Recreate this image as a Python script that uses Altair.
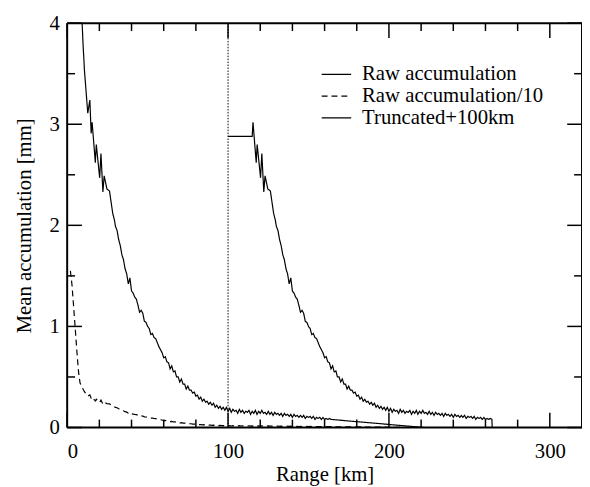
import altair as alt
import pandas as pd

# ---------------- data ----------------
series_names = ["Raw accumulation", "Raw accumulation/10", "Truncated+100km"]

raw_head_km = [2, 3, 4, 5, 6, 7, 8, 9, 10.0, 10.4, 10.7, 12.8, 14.1, 14.9, 15.5,
               17.5, 18.1, 20.2, 21.0, 22.2, 23.0, 24.7, 26.3, 28.3, 29.4, 30]
raw_head_val = [15.5, 14.1, 12.0, 9.8, 7.6, 5.6, 4.4, 4.1, 3.75, 3.64, 3.54, 3.11, 3.24, 2.91, 3.02,
                2.62, 2.80, 2.47, 2.71, 2.33, 2.49, 2.36, 2.34, 2.12, 2.05, 1.99]

raw_body_km = list(range(31, 165))
raw_body_val = [
    1.95, 1.86, 1.80, 1.71, 1.66, 1.57, 1.52, 1.42, 1.48, 1.35,   # 31-40
    1.33, 1.29, 1.27, 1.21, 1.14, 1.16, 1.13, 1.05, 1.04, 1.00,   # 41-50
    0.98, 0.92, 0.93, 0.89, 0.88, 0.84, 0.80, 0.77, 0.74, 0.69,   # 51-60
    0.70, 0.65, 0.64, 0.58, 0.61, 0.55, 0.56, 0.50, 0.50, 0.45,   # 61-70
    0.48, 0.43, 0.43, 0.38, 0.41, 0.37, 0.37, 0.34, 0.35, 0.31,   # 71-80
    0.32, 0.28, 0.30, 0.26, 0.28, 0.25, 0.26, 0.23, 0.25, 0.22,   # 81-90
    0.24, 0.20, 0.22, 0.19, 0.21, 0.18, 0.20, 0.17, 0.20, 0.16,   # 91-100
    0.19, 0.15, 0.18, 0.16, 0.17, 0.14, 0.18, 0.15, 0.17, 0.14,   # 101-110
    0.16, 0.15, 0.17, 0.13, 0.16, 0.14, 0.17, 0.13, 0.16, 0.14,   # 111-120
    0.17, 0.14, 0.15, 0.13, 0.16, 0.13, 0.15, 0.12, 0.15, 0.13,   # 121-130
    0.14, 0.12, 0.14, 0.11, 0.14, 0.12, 0.13, 0.11, 0.13, 0.10,   # 131-140
    0.13, 0.11, 0.12, 0.10, 0.12, 0.10, 0.12, 0.09, 0.11, 0.10,   # 141-150
    0.11, 0.09, 0.11, 0.08, 0.10, 0.09, 0.10, 0.08, 0.10, 0.08,   # 151-160
    0.09, 0.08, 0.09, 0.08,                                       # 161-164
]
raw_tail_km = [222]
raw_tail_val = [0.0]

trunc_level = 2.88
trunc_start_km = [100, 115]
trunc_end_km = 264.2
shift_km = 100

x_major = [0, 100, 200, 300]
x_minor = [20, 40, 60, 80, 120, 140, 160, 180, 220, 240, 260, 280]
y_major = [0, 1, 2, 3, 4]
y_minor = [0.5, 1.5, 2.5, 3.5]
divider_km = [100]

# ---------------- build table ----------------
raw_km = raw_head_km + raw_body_km + raw_tail_km
raw_val = raw_head_val + raw_body_val + raw_tail_val

rows = []
for i, (k, v) in enumerate(zip(raw_km, raw_val)):
    rows.append({"km": k, "val": v, "series": series_names[0], "o": i})
for i, (k, v) in enumerate(zip(raw_km, raw_val)):
    rows.append({"km": k, "val": v / 10, "series": series_names[1], "o": i})
tr = [(k, trunc_level) for k in trunc_start_km]
tr += [(k + shift_km, v) for k, v in zip(raw_head_km + raw_body_km, raw_head_val + raw_body_val) if k >= 15.5]
tr += [(trunc_end_km, 0.0)]
for i, (k, v) in enumerate(tr):
    rows.append({"km": k, "val": v, "series": series_names[2], "o": i})
df = pd.DataFrame(rows)

W, H = 522, 410
FONT = "Liberation Serif, Times New Roman, Times, serif"
FS = 21
xs = alt.Scale(domain=[0, 320], nice=False, zero=False)
ys = alt.Scale(domain=[0, 4], nice=False, zero=False)

xaxis = alt.Axis(
    values=x_major, ticks=False, tickSize=0, domain=False, grid=False,
    labelFont=FONT, labelFontSize=FS, labelColor="black", labelPadding=13,
    title="Range [km]", titleFont=FONT, titleFontSize=FS, titleFontWeight="normal",
    titleColor="black", titlePadding=3)
yaxis = alt.Axis(
    values=y_major, ticks=False, tickSize=0, domain=False, grid=False,
    labelFont=FONT, labelFontSize=FS, labelColor="black", labelPadding=8,
    title="Mean accumulation [mm]", titleFont=FONT, titleFontSize=FS,
    titleFontWeight="normal", titleColor="black", titlePadding=15)

lines = alt.Chart(df).mark_line(clip=True, strokeWidth=1.2, color="black").encode(
    x=alt.X("km:Q", scale=xs, axis=xaxis),
    y=alt.Y("val:Q", scale=ys, axis=yaxis),
    strokeDash=alt.StrokeDash("series:N", scale=alt.Scale(
        domain=series_names, range=[[1, 0], [6, 4], [1, 0]]),
        legend=alt.Legend(orient="none", legendX=261, legendY=40, title=None,
                          labelFont=FONT, labelFontSize=FS, labelColor="black",
                          labelLimit=0,
                          symbolType="M-1.36,0H1.36", symbolSize=484,
                          symbolStrokeWidth=1.2, symbolFillColor="transparent",
                          symbolStrokeColor="black", labelOffset=14, rowPadding=-2.5,
                          padding=0)),
    order="o:Q",
)

div = alt.Chart(pd.DataFrame({"km": divider_km})).mark_rule(
    color="black", strokeWidth=1, strokeDash=[1.5, 1.5]).encode(
    x=alt.X("km:Q", scale=xs, axis=xaxis), y=alt.value(0), y2=alt.value(H))

def xt(vals, length, top):
    d = pd.DataFrame({"km": vals})
    y0 = 0 if top else H
    y1 = length if top else H - length
    return alt.Chart(d).mark_rule(color="black", strokeWidth=1.5).encode(
        x=alt.X("km:Q", scale=xs, axis=xaxis), y=alt.value(y0), y2=alt.value(y1))

def yt(vals, length, right):
    d = pd.DataFrame({"val": vals})
    x0 = W if right else 0
    x1 = W - length if right else length
    return alt.Chart(d).mark_rule(color="black", strokeWidth=1.5).encode(
        y=alt.Y("val:Q", scale=ys, axis=yaxis), x=alt.value(x0), x2=alt.value(x1))

frame_df = pd.DataFrame({"k": [0]})
frame = [
    alt.Chart(frame_df).mark_rule(color="black", strokeWidth=2).encode(
        x=alt.value(0), x2=alt.value(W), y=alt.value(0)),
    alt.Chart(frame_df).mark_rule(color="black", strokeWidth=2).encode(
        x=alt.value(0), x2=alt.value(W), y=alt.value(H)),
    alt.Chart(frame_df).mark_rule(color="black", strokeWidth=2).encode(
        x=alt.value(0), y=alt.value(0), y2=alt.value(H)),
    alt.Chart(frame_df).mark_rule(color="black", strokeWidth=2).encode(
        x=alt.value(W), y=alt.value(0), y2=alt.value(H)),
]

chart = alt.layer(
    lines,
    div,
    xt(x_major, 15, False), xt(x_minor, 8, False),
    xt(x_major, 15, True), xt(x_minor, 8, True),
    yt(y_major, 15, False), yt(y_minor, 8, False),
    yt(y_major, 15, True), yt(y_minor, 8, True),
    *frame,
).properties(
    width=W, height=H,
    background="white",
    autosize=alt.AutoSizeParams(type="none"),
    padding={"left": 60, "top": 12, "right": 0, "bottom": 60},
).configure_view(stroke=None)

chart.save("out.html", embed_options={"renderer": "svg", "actions": False})
